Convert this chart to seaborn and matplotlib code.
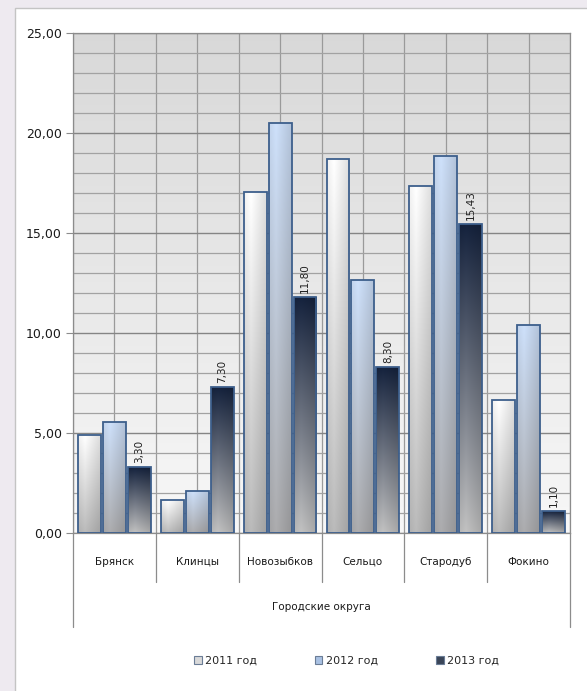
import numpy as np
import pandas as pd
import seaborn as sns
import matplotlib
matplotlib.use('Agg')
import matplotlib.pyplot as plt
from matplotlib.colors import to_rgb
from matplotlib.patches import Patch, Rectangle
from matplotlib.ticker import MultipleLocator, FuncFormatter

# values
districts = ['Брянск', 'Клинцы', 'Новозыбков', 'Сельцо', 'Стародуб', 'Фокино']
years = ['2011 год', '2012 год', '2013 год']
v2011 = [4.90, 1.65, 17.05, 18.70, 17.35, 6.65]
v2012 = [5.55, 2.10, 20.50, 12.65, 18.85, 10.40]
v2013 = [3.30, 7.30, 11.80, 8.30, 15.43, 1.10]

df = pd.DataFrame({
    'district': districts * 3,
    'year': np.repeat(years, len(districts)),
    'value': v2011 + v2012 + v2013,
})

# gradient (top, bottom) for each year + legend swatch colour
grad = {
    '2011 год': ('#f6f6f6', '#b4b4b4'),
    '2012 год': ('#c6d8f1', '#a6a6a8'),
    '2013 год': ('#15223c', '#bababa'),
}
swatch = ['#d9d9d9', '#a9c1e3', '#3a4558']
edge = '#3d5f8c'
line_col = '#8c8c8c'

sns.set_theme(style='white')
plt.rcParams['font.family'] = ['DejaVu Sans']

fig = plt.figure(figsize=(5.87, 6.91), dpi=100, facecolor='#eeeaf0')
fig.patches.append(Rectangle((15 / 587, -0.01), 1, 1.01 - 8 / 691, transform=fig.transFigure,
                             facecolor='white', edgecolor='#c4c4c4', lw=1, zorder=-5))
ax = fig.add_axes([73 / 587, 158 / 691, 497 / 587, 500 / 691])

sns.barplot(data=df, x='district', y='value', hue='year', hue_order=years,
            palette=[g[0] for g in grad.values()], width=0.9, gap=0.08,
            edgecolor=edge, linewidth=1.3, legend=False, ax=ax, zorder=3)

# plot area background: grey at top, lighter at bottom
bg = np.linspace(0.85, 0.97, 64)[:, None]
ax.imshow(np.dstack([bg] * 3), extent=(0, 1, 0, 1), transform=ax.transAxes,
          aspect='auto', zorder=0, interpolation='bilinear')

# gradient fill of the bars
for cont, (top, bot) in zip(ax.containers, grad.values()):
    c_top, c_bot = np.array(to_rgb(top)), np.array(to_rgb(bot))
    t = np.linspace(0, 1, 64)[:, None]
    vert = c_top * (1 - t) + c_bot * t
    s = np.linspace(0, 1, 24)
    shade = 1.04 - 0.14 * np.abs(s - 0.3) / 0.7
    for bar in cont:
        x, w, h = bar.get_x(), bar.get_width(), bar.get_height()
        img = np.clip(vert[:, None, :] * shade[None, :, None], 0, 1)
        im = ax.imshow(img, extent=(x, x + w, 0, h), aspect='auto', zorder=2.5,
                       interpolation='bilinear')
        im.set_clip_path(bar)
        bar.set_facecolor('none')

ax.bar_label(ax.containers[2], labels=[f'{v:.2f}'.replace('.', ',') for v in v2013],
             rotation=90, padding=3, fontsize=7.5, color='#222222')

ax.set_xlim(-0.5, len(districts) - 0.5)
ax.set_ylim(0, 25)
ax.yaxis.set_major_locator(MultipleLocator(5))
ax.yaxis.set_minor_locator(MultipleLocator(1))
ax.yaxis.set_major_formatter(FuncFormatter(lambda v, p: f'{v:.2f}'.replace('.', ',')))
ax.set_xticks(np.arange(-0.5, len(districts), 1.0), minor=True)
ax.set_axisbelow(True)
ax.grid(axis='y', which='minor', color='#a2a2a2', lw=0.9)
ax.grid(axis='y', which='major', color='#858585', lw=1.0)
ax.grid(axis='x', which='both', color='#9a9a9a', lw=0.9)

ax.tick_params(axis='y', which='major', length=5, width=0.8, color=line_col,
               labelsize=9, pad=3, labelcolor='#1a1a1a', left=True)
ax.tick_params(axis='y', which='minor', length=0)
ax.tick_params(axis='x', which='both', length=0, labelsize=7.5, pad=17, labelcolor='#1a1a1a')
ax.set_xlabel('')
ax.set_ylabel('')
for sp in ax.spines.values():
    sp.set_color(line_col)
    sp.set_linewidth(0.9)

# category "table" lines below the axis
tr = ax.get_xaxis_transform()
for b in np.arange(-0.5, len(districts), 1.0):
    depth = -0.188 if b in (-0.5, len(districts) - 0.5) else -0.098
    ax.plot([b, b], [0, depth], transform=tr, color=line_col, lw=0.9, clip_on=False)
ax.text((len(districts) - 1) / 2, -0.148, 'Городские округа', transform=tr,
        ha='center', va='center', fontsize=7.5, color='#1a1a1a')

handles = [Patch(facecolor=c, edgecolor='#6b7d96', lw=0.8) for c in swatch]
fig.legend(handles, years, loc='center', bbox_to_anchor=(0.59, 1 - 661 / 691), ncol=3,
           frameon=False, fontsize=8, handlelength=0.7, handleheight=0.7,
           handletextpad=0.3, columnspacing=5.2)

fig.savefig('out.png', dpi=100, facecolor=fig.get_facecolor())
